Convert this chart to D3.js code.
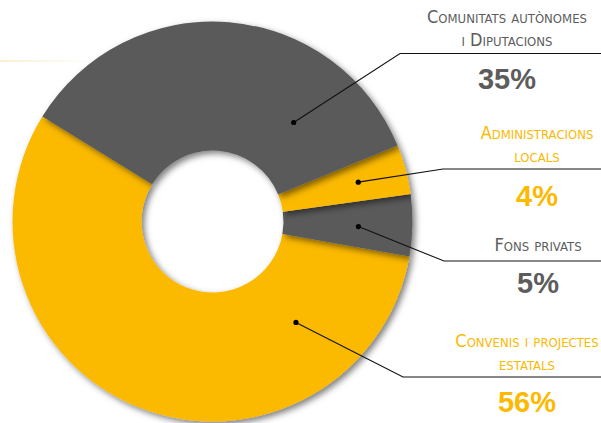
<!DOCTYPE html>
<html>
<head>
<meta charset="utf-8">
<script src="https://cdn.jsdelivr.net/npm/d3@7"></script>
<style>
  html, body { margin: 0; padding: 0; background: #fff; }
  svg { display: block; }
  .cat { font-family: "Liberation Sans Narrow", "DejaVu Sans Condensed", sans-serif; font-variant: small-caps; font-size: 18px; }
  .pct { font-family: "Liberation Sans", Arial, sans-serif; font-weight: bold; font-size: 29px; }
</style>
</head>
<body>
<svg id="chart"></svg>
<script>
// dades
const categories = [
  ["Comunitats autònomes", "i Diputacions"],
  ["Administracions", "locals"],
  ["Fons privats"],
  ["Convenis i projectes", "estatals"]
];
const values = [35, 4, 5, 56];
const pctLabels = ["35%", "4%", "5%", "56%"];

const width = 601, height = 423;
const cx = 212.5, cy = 221.5;
const outerR = 200, innerR = 71;
const grey = "#5a5a5a", yellow = "#fbb900";
const sliceColors = [grey, yellow, grey, yellow];
const textColors = ["#5c5c5c", yellow, "#5c5c5c", yellow];

// posicio de les etiquetes (punt dins la llesca, colze, text)
const layout = [
  { frac: 0.775, r: 128, elbow: [400, 53.5], tx: 507, lines: [23, 45.5], pctY: 89 },
  { frac: 0.5, r: 151, elbow: [443, 169], tx: 537, lines: [138.5, 161.5], pctY: 206 },
  { frac: 0.55, r: 146, elbow: [444, 261], tx: 538, lines: [250.5], pctY: 293 },
  { frac: 0.2, r: 131, elbow: [403, 377], tx: 527, lines: [346.5, 369.5], pctY: 411.5 }
];

const svg = d3.select("#chart")
  .attr("width", width)
  .attr("height", height);

const defs = svg.append("defs");
const f = defs.append("filter").attr("id", "shadow")
  .attr("x", "-20%").attr("y", "-20%").attr("width", "140%").attr("height", "140%");
f.append("feDropShadow")
  .attr("dx", 3).attr("dy", 3)
  .attr("stdDeviation", 3)
  .attr("flood-color", "#000")
  .attr("flood-opacity", 0.5);

const lg = defs.append("linearGradient").attr("id", "fade");
lg.append("stop").attr("offset", "0%").attr("stop-color", "#fcecc8").attr("stop-opacity", 0.9);
lg.append("stop").attr("offset", "100%").attr("stop-color", "#fcecc8").attr("stop-opacity", 0);

// linia decorativa suau a dalt a l'esquerra
svg.append("rect")
  .attr("x", 0).attr("y", 60)
  .attr("width", 95).attr("height", 2)
  .attr("fill", "url(#fade)");

const pie = d3.pie()
  .sort(null)
  .value(d => d)
  .startAngle(-58.3 * Math.PI / 180)
  .endAngle((360 - 58.3) * Math.PI / 180);

const arcs = pie(values);
const arc = d3.arc().innerRadius(innerR).outerRadius(outerR);

const g = svg.append("g").attr("transform", `translate(${cx},${cy})`);

// ordre de dibuix perque cada llesca faci ombra sobre la seguent
const order = [3, 2, 1, 0];
g.selectAll("path")
  .data(order.map(i => arcs[i]))
  .enter()
  .append("path")
  .attr("d", arc)
  .attr("fill", d => sliceColors[d.index])
  .attr("filter", "url(#shadow)");

// linies guia
arcs.forEach((a, i) => {
  const L = layout[i];
  const ang = a.startAngle + (a.endAngle - a.startAngle) * L.frac;
  const px = cx + Math.sin(ang) * L.r;
  const py = cy - Math.cos(ang) * L.r;
  svg.append("polyline")
    .attr("points", `${px},${py} ${L.elbow[0]},${L.elbow[1]} ${width},${L.elbow[1]}`)
    .attr("fill", "none")
    .attr("stroke", "#111")
    .attr("stroke-width", 1.1);
  svg.append("circle")
    .attr("cx", px).attr("cy", py)
    .attr("r", 2.6)
    .attr("fill", "#000");
});

// textos
categories.forEach((lines, i) => {
  const L = layout[i];
  lines.forEach((t, j) => {
    svg.append("text")
      .attr("class", "cat")
      .attr("x", L.tx).attr("y", L.lines[j])
      .attr("text-anchor", "middle")
      .attr("fill", textColors[i])
      .text(t);
  });
  svg.append("text")
    .attr("class", "pct")
    .attr("x", L.tx).attr("y", L.pctY)
    .attr("text-anchor", "middle")
    .attr("fill", textColors[i])
    .text(pctLabels[i]);
});
</script>
</body>
</html>
